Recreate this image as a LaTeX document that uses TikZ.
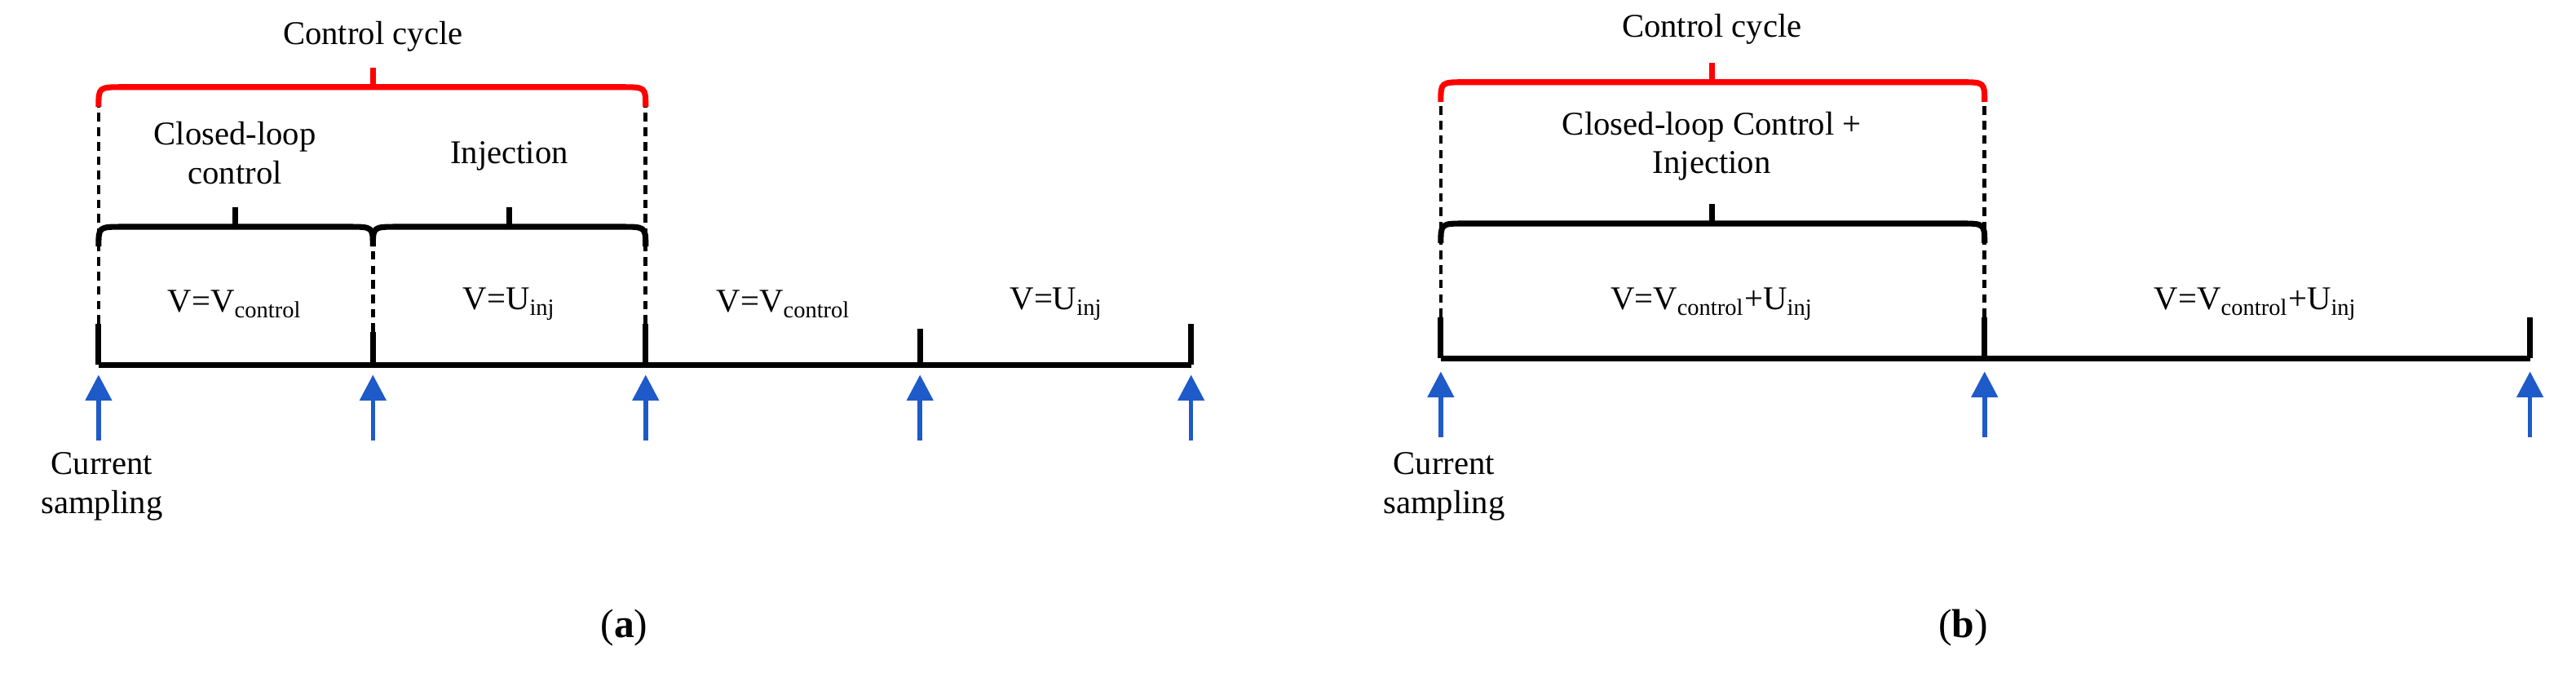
\documentclass[tikz,border=0pt]{standalone}
\usepackage{fontspec}
\setmainfont{Liberation Serif}
\usetikzlibrary{arrows.meta,calc}
\begin{document}
\begin{tikzpicture}[x=0.02cm,y=-0.02cm,
  txt/.style={font=\fontsize{11.5}{13.5}\selectfont,align=center,inner sep=1pt},
  axis/.style={line width=2pt,black},
  dsh/.style={line width=1.3pt,dash pattern=on 3pt off 2pt},
  samp/.style={line width=1.6pt,color={rgb,255:red,30;green,90;blue,200},-{Triangle[length=9pt,width=9pt]}},
  brace/.style={line width=2pt},
  rbrace/.style={line width=2pt,red}]
\useasboundingbox (0,0) rectangle (1568,409);
\newcommand{\mybrace}[5]{% x1 x2 y style tickx
  \draw[#4] (#1,#3+12) .. controls (#1,#3) .. (#1+15,#3) -- (#2-15,#3) .. controls (#2,#3) .. (#2,#3+12);
  \draw[#4] (#5,#3) -- (#5,#3-12);}
% ---------- panel (a)
\foreach \n/\x in {a0/60,a1/227,a2/393,a3/560,a4/725}{\coordinate (\n) at (\x,222);}
\draw[axis] (a0) -- (a4);
\draw[axis] (a0) -- ++(0,-25);
\draw[axis] (a1) -- ++(0,-20);
\draw[axis] (a2) -- ++(0,-25);
\draw[axis] (a3) -- ++(0,-22);
\draw[axis] (a4) -- ++(0,-25);
\draw[dsh] (60,197) -- (60,65);
\draw[dsh] (393,197) -- (393,65);
\draw[dsh] (227,202) -- (227,150);
\foreach \n in {a0,a1,a2,a3,a4}{\draw[samp] ($(\n)+(0,46)$) -- ($(\n)+(0,6)$);}
\mybrace{60}{227}{138}{brace}{143}
\mybrace{227}{393}{138}{brace}{310}
\mybrace{60}{393}{53}{rbrace}{227}
\node[txt] (cc1) at (227,22) {Control cycle};
\node[txt] (cl1) at (143,93) {Closed-loop\\control};
\node[txt] (inj1) at (310,95) {Injection};
\node[txt] (v1) at (143,185) {V=V\textsubscript{control}};
\node[txt] (v2) at (310,185) {V=U\textsubscript{inj}};
\node[txt] (v3) at (477,185) {V=V\textsubscript{control}};
\node[txt] (v4) at (643,185) {V=U\textsubscript{inj}};
\node[txt] (cs1) at (62,296) {Current\\sampling};
\node[txt,font=\fontsize{14}{16}\selectfont] (la) at (380,382) {(\textbf{a})};
% ---------- panel (b)
\foreach \n/\x in {b0/877,b1/1208,b2/1540}{\coordinate (\n) at (\x,218);}
\draw[axis] (b0) -- (b2);
\draw[axis] (b0) -- ++(0,-25);
\draw[axis] (b1) -- ++(0,-25);
\draw[axis] (b2) -- ++(0,-25);
\draw[dsh] (877,193) -- (877,62);
\draw[dsh] (1208,193) -- (1208,62);
\foreach \n in {b0,b1,b2}{\draw[samp] ($(\n)+(0,48)$) -- ($(\n)+(0,8)$);}
\mybrace{877}{1208}{136}{brace}{1042}
\mybrace{877}{1208}{50}{rbrace}{1042}
\node[txt] (cc2) at (1042,18) {Control cycle};
\node[txt] (cl2) at (1042,89) {Closed-loop Control +\\Injection};
\node[txt] (v5) at (1042,185) {V=V\textsubscript{control}+U\textsubscript{inj}};
\node[txt] (v6) at (1373,185) {V=V\textsubscript{control}+U\textsubscript{inj}};
\node[txt] (cs2) at (879,296) {Current\\sampling};
\node[txt,font=\fontsize{14}{16}\selectfont] (lb) at (1195,382) {(\textbf{b})};
\end{tikzpicture}
\end{document}
